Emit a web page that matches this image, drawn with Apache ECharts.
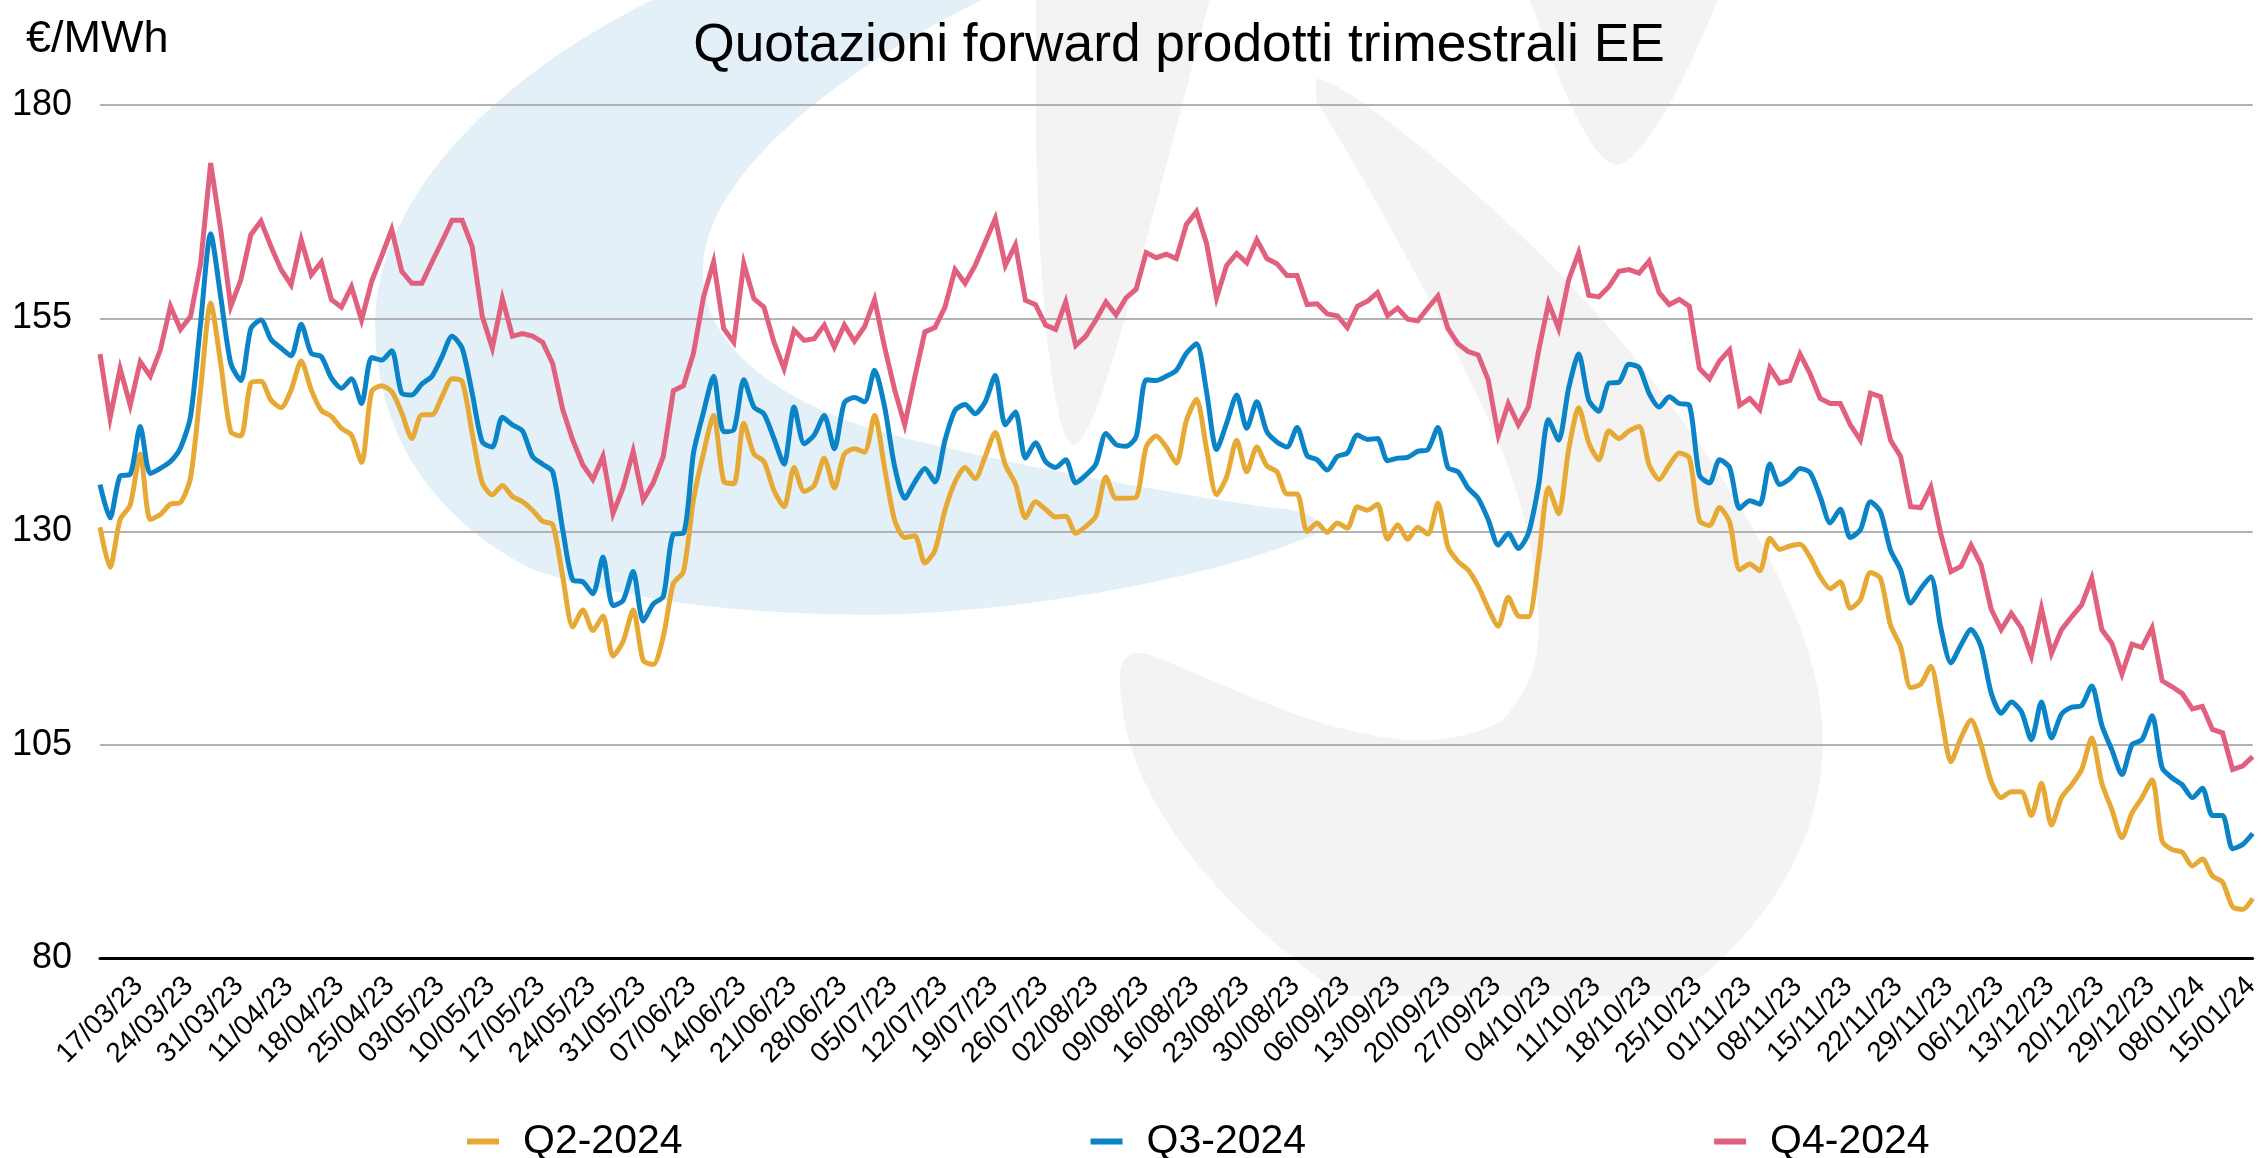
<!DOCTYPE html>
<html>
<head>
<meta charset="utf-8">
<script src="https://cdn.jsdelivr.net/npm/echarts@6/dist/echarts.min.js"></script>
<style>html,body{margin:0;padding:0;background:#fff}#c{width:2263px;height:1158px}</style>
</head>
<body>
<div id="c"></div>
<script>
const tickLabels = ['17/03/23','24/03/23','31/03/23','11/04/23','18/04/23','25/04/23','03/05/23','10/05/23','17/05/23','24/05/23','31/05/23','07/06/23','14/06/23','21/06/23','28/06/23','05/07/23','12/07/23','19/07/23','26/07/23','02/08/23','09/08/23','16/08/23','23/08/23','30/08/23','06/09/23','13/09/23','20/09/23','27/09/23','04/10/23','11/10/23','18/10/23','25/10/23','01/11/23','08/11/23','15/11/23','22/11/23','29/11/23','06/12/23','13/12/23','20/12/23','29/12/23','08/01/24','15/01/24'];

const q2 = [130.5,125.8,131.4,133.1,139.1,131.4,132,133.2,133.4,136.3,146.6,156.8,149.7,141.7,141.2,147.4,147.6,145.4,144.5,146.6,150,146.6,144.2,143.5,142.1,141.3,138.1,146.4,147.1,146.4,143.9,
140.9,143.7,143.7,145.8,147.9,147.6,141.5,135.7,134.3,135.4,134.1,133.5,132.5,131.2,130.8,124.7,118.8,120.8,118.4,120.1,115.4,117.1,120.8,114.9,114.4,117.7,123.9,125.3,133.7,139.2,
143.6,135.9,135.6,142.7,139.1,138.2,134.8,132.9,137.5,134.7,135.4,138.6,135.1,139.1,139.7,139.3,143.6,137.4,131.3,129.3,129.5,126.3,127.8,132.5,135.8,137.5,136.2,138.8,141.6,137.8,
135.6,131.6,133.5,132.6,131.7,131.8,129.8,130.6,131.8,136.4,133.9,133.9,134,139.9,141.2,139.9,138,143,145.5,139.7,134.3,136.4,140.7,137,139.9,137.7,137,134.4,134.4,130,
131,129.9,131,130.4,132.9,132.5,133.2,129.1,130.8,129.1,130.5,129.7,133.3,128.2,126.5,125.5,123.6,121,118.9,122.3,120.1,120,126.7,135.1,132.1,139.6,144.5,140.4,138.4,141.8,
140.9,141.8,142.3,137.8,136.1,137.8,139.2,138.6,131.3,130.7,132.8,131.1,125.5,126.2,125.4,129.2,127.9,128.3,128.5,127,124.7,123.3,124.1,121,122,125.2,124.5,119,116.5,111.7,
112.1,114.2,108.7,103,105.8,107.9,105,100.7,98.8,99.5,99.5,96.7,100.5,95.6,98.8,100.3,102.1,105.8,100.5,97.4,94.1,97,98.8,100.9,93.7,92.7,92.4,90.8,91.6,89.6,88.9,86,85.7,87];

const q3 = [135.5,131.6,136.5,136.7,142.3,136.8,137.4,138.2,139.8,143.5,154.4,164.9,157.5,149.7,147.7,153.8,154.8,152.5,151.5,150.6,154.3,150.9,150.5,148,146.8,147.9,145,150.4,150.1,151.2,146.2,
146,147.3,148.2,150.5,152.9,151.5,146.2,140.5,139.9,143.4,142.5,141.8,138.8,137.9,137,130.2,124.3,124.1,122.7,127,121.3,121.9,125.3,119.5,121.5,122.4,129.7,129.8,139.2,144,
148.2,141.7,141.9,147.8,144.6,143.8,140.9,137.9,144.6,140.3,141.3,143.6,139.7,145.1,145.7,145.2,148.9,144.6,137.6,133.9,135.8,137.4,135.8,140.7,144.2,144.9,143.8,145.2,148.3,142.5,
144,138.6,140.4,138.2,137.5,138.4,135.7,136.6,137.9,141.5,140.2,140,141.1,147.8,147.7,148.2,148.9,150.9,152,146.4,139.6,142.7,146,142.1,145.2,141.7,140.5,139.9,142.2,138.9,
138.4,137.2,138.8,139.2,141.3,140.8,140.9,138.3,138.6,138.7,139.4,139.6,142.2,137.5,137,135.1,133.9,131.4,128.4,129.8,128,129.8,135.3,143.1,140.7,146.8,150.8,145.4,144.1,147.4,
147.5,149.6,149.2,146.2,144.6,145.8,145,144.8,136.6,135.7,138.4,137.5,132.7,133.6,133.2,137.9,135.5,136.2,137.4,136.9,134.1,131,132.6,129.3,130.2,133.5,132.3,127.8,125.5,121.6,
123.3,124.7,118.7,114.6,116.7,118.5,116.5,111.1,108.7,110,108.9,105.6,110,105.8,108.6,109.4,109.6,111.9,107.3,104.4,101.5,105,105.6,108.4,102.3,101.1,100.3,98.8,99.9,96.7,96.7,92.8,93.3,94.6];

const q4 = [150.8,143.3,149.1,144.8,149.9,148.2,151.3,156.4,153.7,155.2,161.4,173.2,165.4,156.4,159.5,164.8,166.4,163.4,160.7,158.9,164.2,160.1,161.6,157.2,156.3,158.7,154.8,159.3,162.3,165.4,160.5,
159.1,159.1,161.6,164,166.5,166.5,163.4,155.2,151.5,157.3,152.9,153.2,152.9,152.2,149.7,144.3,140.7,137.8,136.1,138.8,132.1,135.1,139.4,133.7,135.7,138.8,146.5,147.1,150.9,157.5,
161.6,153.8,152.2,161.4,157.3,156.3,152.2,149.1,153.6,152.4,152.6,154.2,151.6,154.2,152.3,154,157.2,151.6,146.6,142.5,148.1,153.4,153.9,156.3,160.7,159.1,161.2,163.9,166.7,161.2,
163.6,157.1,156.6,154.2,153.7,156.9,151.8,152.9,154.8,156.9,155.4,157.4,158.4,162.7,162.1,162.5,162,166,167.5,163.8,157.4,161.2,162.6,161.5,164.2,162,161.4,160,160,156.6,
156.7,155.5,155.3,153.9,156.4,157,158,155.3,156.2,154.9,154.7,156.2,157.6,153.8,152,151.1,150.7,147.8,141.3,145,142.5,144.6,151.1,156.8,153.8,159.5,162.7,157.7,157.5,158.7,
160.5,160.7,160.3,161.7,158,156.6,157.2,156.4,149.1,147.9,150,151.3,144.8,145.6,144.3,149.2,147.4,147.7,150.8,148.5,145.6,145,145,142.5,140.7,146.2,145.8,140.7,138.8,132.9,
132.8,135.2,129.7,125.3,125.9,128.4,126.1,120.9,118.5,120.4,118.7,115.4,121,115.7,118.5,120,121.4,124.5,118.5,116.9,113.3,116.8,116.4,118.7,112.5,111.8,111,109.2,109.5,106.8,106.4,102.1,102.5,103.6];

const seriesNames = ['Q2-2024','Q3-2024','Q4-2024'];
const seriesColors = ['#E6A935','#0A84C6','#E0607E'];
const categories = q2.map((_, i) => (i % 5 === 0 ? (tickLabels[i / 5] || '') : ''));
const FONT = '"Liberation Sans", Arimo, Helvetica, Arial, sans-serif';

const k = 2263 / 1568;
function mark(path, fill) {
  return { type: 'path', silent: true, scaleX: k, scaleY: k, shape: { pathData: path }, style: { fill: fill } };
}
const watermark = [
  mark('M452 0 C340 55 260 140 260 225 C260 300 300 360 370 395 C430 415 510 426 603 426 C720 425 860 395 916 368 C918 360 900 352 882 352 C800 340 700 322 613 300 C560 285 487 250 487 188 C487 130 560 60 680 0 Z', '#E3F0F8'),
  mark('M718 0 L718 104 C720 200 730 308 744 308 C760 308 790 180 811 104 L838 0 Z', '#F3F3F3'),
  mark('M1060 0 C1075 40 1100 113 1120 114 C1140 113 1170 50 1190 0 Z', '#F3F3F3'),
  mark('M912 55 C925 50 1040 140 1117 229 C1210 340 1263 440 1263 511 C1263 580 1230 630 1185 672 L1160 690 L930 690 C860 640 776 560 776 470 C776 450 790 450 800 455 C850 475 900 500 949 509 C990 518 1020 510 1040 500 C1060 480 1067 455 1066 432 C1065 380 1050 335 1040 310 C1010 240 950 130 912 70 Z', '#F3F3F3')
];

const chart = echarts.init(document.getElementById('c'), null, { renderer: 'canvas' });
chart.setOption({
  animation: false,
  backgroundColor: '#ffffff',
  textStyle: { fontFamily: FONT },
  title: [
    { text: 'Quotazioni forward prodotti trimestrali EE', left: 1174, top: 15, textAlign: 'center',
      textStyle: { fontFamily: FONT, fontSize: 53.3, fontWeight: 'normal', color: '#000' } },
    { text: '€/MWh', left: 21, top: 12,
      textStyle: { fontFamily: FONT, fontSize: 45, fontWeight: 'normal', color: '#000' } }
  ],
  legend: {
    left: 462, top: 1116, itemWidth: 32, itemHeight: 6, itemGap: 408, icon: 'rect', selectedMode: false,
    data: seriesNames,
    textStyle: { fontFamily: FONT, fontSize: 41, color: '#000', padding: [0, 0, 0, 19] }
  },
  grid: { left: 100, right: 6, top: 105, bottom: 200, containLabel: false },
  xAxis: {
    type: 'category', boundaryGap: false, data: categories,
    axisTick: { show: false },
    axisLine: { lineStyle: { color: '#000', width: 3 } },
    axisLabel: { interval: 4, rotate: 45, align: 'center', verticalAlign: 'middle', margin: 62,
      fontFamily: FONT, fontSize: 28, color: '#000', hideOverlap: false }
  },
  yAxis: {
    type: 'value', min: 80, max: 180, interval: 25,
    axisLine: { show: false }, axisTick: { show: false },
    splitLine: { lineStyle: { color: '#B2B2B2', width: 2 } },
    axisLabel: { fontFamily: FONT, fontSize: 36, color: '#000', margin: 28, padding: [6, 0, 0, 0] }
  },
  series: [
    { type: 'custom', name: 'watermark', coordinateSystem: 'none', silent: true, z: -1, data: [0],
      renderItem: () => ({ type: 'group', children: watermark }) },
    { name: seriesNames[0], type: 'line', data: q2, smooth: 0.25, showSymbol: false, itemStyle: { color: seriesColors[0] }, lineStyle: { color: seriesColors[0], width: 5, join: 'round' }, z: 3 },
    { name: seriesNames[1], type: 'line', data: q3, smooth: 0.25, showSymbol: false, itemStyle: { color: seriesColors[1] }, lineStyle: { color: seriesColors[1], width: 5, join: 'round' }, z: 4 },
    { name: seriesNames[2], type: 'line', data: q4, smooth: false, showSymbol: false, itemStyle: { color: seriesColors[2] }, lineStyle: { color: seriesColors[2], width: 5, join: 'miter', miterLimit: 6 }, z: 5 }
  ]
});
</script>
</body>
</html>
